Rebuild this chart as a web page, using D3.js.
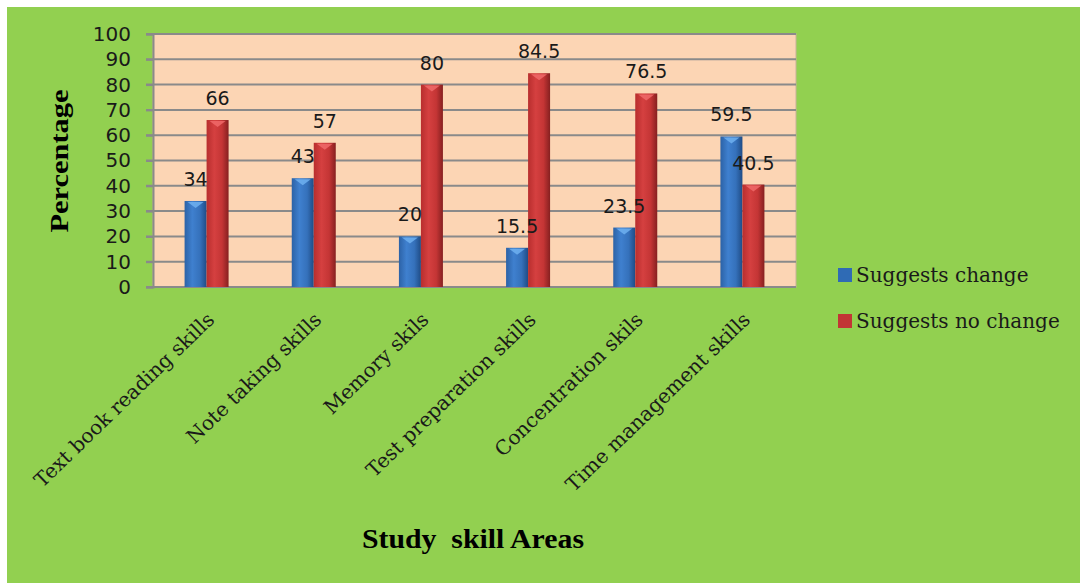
<!DOCTYPE html>
<html>
<head>
<meta charset="utf-8">
<script src="https://cdn.jsdelivr.net/npm/d3@7"></script>
<style>
  html, body { margin: 0; padding: 0; background: #ffffff; }
  svg { display: block; }
</style>
</head>
<body>
<svg id="chart" width="1080" height="583"></svg>
<script>
// data
const categories = ["Text book reading skills", "Note taking skills", "Memory skils",
    "Test preparation skills", "Concentration skils", "Time management skills"];
const seriesNames = ["Suggests change", "Suggests no change"];
const suggestsChange = [34, 43, 20, 15.5, 23.5, 59.5];
const suggestsNoChange = [66, 57, 80, 84.5, 76.5, 40.5];
const yTicks = [0, 10, 20, 30, 40, 50, 60, 70, 80, 90, 100];

const W = 1080, H = 583;
const plot = { left: 153, right: 796, top: 34, bottom: 287 };

const svg = d3.select("#chart");
const defs = svg.append("defs");

function barGradient(id, stops) {
    const g = defs.append("linearGradient").attr("id", id)
        .attr("x1", "0%").attr("x2", "100%").attr("y1", "0%").attr("y2", "0%");
    stops.forEach(s => g.append("stop").attr("offset", s[0]).attr("stop-color", s[1]));
}
barGradient("gBlue", [["0%", "#2c62a6"], ["35%", "#3f80cf"], ["70%", "#3571bb"], ["100%", "#1f4c86"]]);
barGradient("gRed", [["0%", "#b82e2e"], ["35%", "#d54040"], ["70%", "#c43535"], ["100%", "#862020"]]);

const fills = ["url(#gBlue)", "url(#gRed)"];
const topFills = ["#6fb0f0", "#f06a6a"];
const legendFills = ["#2f6bb5", "#c23535"];

// background
svg.append("rect").attr("x", 7).attr("y", 7).attr("width", W - 7).attr("height", H - 7)
    .attr("fill", "#92d050");

svg.append("rect")
    .attr("x", plot.left).attr("y", plot.top)
    .attr("width", plot.right - plot.left).attr("height", plot.bottom - plot.top)
    .attr("fill", "#fcd5b4")
    .attr("stroke", "#c9b09a").attr("stroke-width", 1);

const x0 = d3.scaleBand().domain(categories).range([plot.left, plot.right]).padding(0);
const groupW = 44;
const x1 = d3.scaleBand().domain(seriesNames)
    .range([x0.bandwidth() / 2 - groupW / 2, x0.bandwidth() / 2 + groupW / 2]);
const y = d3.scaleLinear().domain([0, 100]).range([plot.bottom, plot.top]);

// gridlines
svg.append("g").selectAll("line").data(yTicks).join("line")
    .attr("x1", plot.left - 7).attr("x2", plot.right)
    .attr("y1", d => y(d)).attr("y2", d => y(d))
    .attr("stroke", "#8a8a8a").attr("stroke-width", 2);

// y axis
const yAxis = svg.append("g")
    .attr("transform", `translate(${plot.left},0)`)
    .call(d3.axisLeft(y).tickValues(yTicks).tickSize(7).tickPadding(15));
yAxis.select(".domain").attr("stroke", "#8a8a8a").attr("stroke-width", 2);
yAxis.selectAll(".tick line").attr("stroke", "#8a8a8a").attr("stroke-width", 2);
yAxis.selectAll(".tick text")
    .attr("font-family", "DejaVu Sans, Verdana, sans-serif")
    .attr("font-size", 20).attr("fill", "#1a1a1a");

// bars
const rows = categories.map((c, i) => ({ cat: c, vals: [suggestsChange[i], suggestsNoChange[i]] }));
const barData = rows.flatMap(r => r.vals.map((v, k) => ({ cat: r.cat, v, k, s: seriesNames[k] })));
const bx = d => x0(d.cat) + x1(d.s);

const bars = svg.append("g").selectAll("g").data(barData).join("g");

bars.append("rect")
    .attr("x", bx).attr("width", x1.bandwidth())
    .attr("y", d => y(d.v)).attr("height", d => y(0) - y(d.v))
    .attr("fill", d => fills[d.k]);

bars.append("path")
    .attr("d", d => {
        const l = bx(d) + 3, r = bx(d) + x1.bandwidth() - 3, t = y(d.v) + 1;
        return `M${l},${t} L${r},${t} L${(l + r) / 2},${t + 6} Z`;
    })
    .attr("fill", d => topFills[d.k]).attr("opacity", 0.85);

// value labels on top of all bars
svg.append("g").selectAll("text").data(barData).join("text")
    .attr("x", d => bx(d) + x1.bandwidth() / 2)
    .attr("y", d => y(d.v) - 15)
    .attr("text-anchor", "middle")
    .attr("font-family", "DejaVu Sans, Verdana, sans-serif")
    .attr("font-size", 19).attr("fill", "#1a1a1a")
    .text(d => d.v);

// category labels
svg.append("g").selectAll("text").data(categories).join("text")
    .attr("transform", d => `translate(${x0(d) + x0.bandwidth() / 2 + 9},${plot.bottom + 34}) rotate(-44)`)
    .attr("text-anchor", "end")
    .attr("font-family", "DejaVu Serif, serif")
    .attr("font-size", 20).attr("fill", "#1a1a1a")
    .text(d => d);

// axis titles
svg.append("text")
    .attr("transform", "translate(68,161) rotate(-90)")
    .attr("text-anchor", "middle")
    .attr("font-family", "Liberation Serif, Times New Roman, serif").attr("font-weight", "bold")
    .attr("font-size", 26).attr("fill", "#000")
    .attr("textLength", 143).attr("lengthAdjust", "spacingAndGlyphs")
    .text("Percentage");

svg.append("text")
    .attr("x", 473).attr("y", 548)
    .attr("text-anchor", "middle")
    .attr("font-family", "Liberation Serif, Times New Roman, serif").attr("font-weight", "bold")
    .attr("font-size", 28).attr("fill", "#000")
    .attr("textLength", 222).attr("lengthAdjust", "spacingAndGlyphs")
    .style("white-space", "pre")
    .text("Study  skill Areas");

// legend
const legend = svg.append("g").selectAll("g").data(seriesNames).join("g")
    .attr("transform", (d, i) => `translate(838,${268 + i * 46})`);
legend.append("rect").attr("width", 14).attr("height", 14)
    .attr("fill", (d, i) => legendFills[i]);
legend.append("text")
    .attr("x", 18).attr("y", 14)
    .attr("font-family", "DejaVu Serif, serif")
    .attr("font-size", 20).attr("fill", "#1a1a1a")
    .text(d => d);
</script>
</body>
</html>
